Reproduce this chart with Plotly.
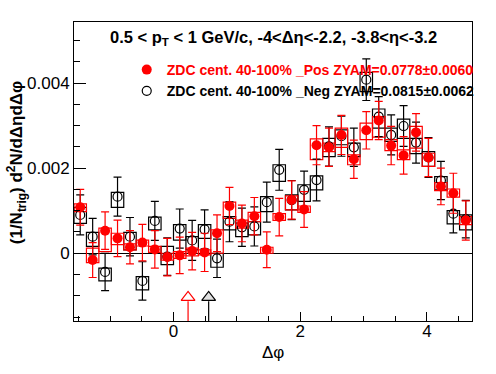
import numpy as np
import plotly.graph_objects as go

# ---- data (values in units of 1e-4) ----
n_bins = 32
red_y = [10.8, -1.6, 5.3, 3.5, 1.4, 2.5, 0.9, -0.9, -0.5, 0.5, 0.2, 4.7, 11.1, 7.0, 8.7, 0.8,
         8.5, 12.5, 10.3, 25.4, 24.9, 27.8, 22.1, 28.9, 31.2, 25.3, 23.0, 28.4, 22.5, 15.7, 14.1, 7.7]
red_err = [4.2, 4.1, 4.4, 4.3, 3.9, 4.3, 4.4, 4.4, 4.3, 4.4, 4.5, 4.3, 4.4, 4.3, 4.4, 4.2,
           4.4, 4.5, 4.2, 4.6, 4.5, 4.6, 4.5, 4.4, 4.5, 4.5, 4.4, 4.4, 4.5, 4.3, 4.7, 4.6]
red_box_lo = [9.8, -2.2, 0.4, 2.0, 0.8, 1.7, 0.2, -1.6, -1.2, -0.6, -0.4, 0.0, 8.2, 5.9, 7.4, 0.0,
              7.7, 10.2, 9.6, 22.0, 23.9, 24.9, 20.8, 26.7, 27.3, 24.1, 22.0, 24.7, 20.4, 14.7, 13.2, 6.7]
red_box_hi = [11.6, 1.2, 5.9, 4.7, 2.2, 3.1, 1.6, 0.0, 0.4, 1.2, 0.8, 5.5, 12.0, 7.8, 9.6, 1.4,
              9.3, 13.5, 11.1, 26.9, 25.9, 29.4, 23.1, 30.6, 32.1, 26.7, 24.3, 29.8, 23.5, 16.6, 15.1, 8.6]

black_y = [9.0, 3.9, -4.4, 13.3, 3.9, -6.5, 7.6, -0.8, 5.8, 3.0, 5.6, -1.2, 7.4, 6.1, 6.3, 12.0,
           19.6, 12.5, 14.9, 17.2, 25.1, 27.5, 24.9, 40.8, 32.1, 27.8, 29.9, 26.0, 22.5, 17.1, 9.3, 8.0]
black_err = [4.7, 4.3, 4.4, 4.6, 4.5, 4.5, 4.6, 4.4, 4.6, 4.7, 4.6, 4.5, 4.7, 4.5, 4.6, 4.7,
             4.8, 4.6, 4.4, 4.9, 4.6, 4.7, 4.5, 4.9, 4.7, 4.7, 4.8, 4.8, 4.7, 4.5, 4.5, 4.4]
black_box_lo = [7.0, 1.6, -6.5, 10.8, 0.8, -8.6, 5.5, -2.7, 3.1, 0.8, 3.5, -3.3, 5.5, 3.9, 4.3, 9.8,
                16.9, 10.2, 12.2, 14.9, 22.7, 25.5, 22.7, 38.0, 29.4, 26.3, 27.0, 23.4, 20.4, 14.9, 6.9, 5.5]
black_box_hi = [10.8, 4.9, -3.5, 14.3, 4.9, -5.5, 8.5, 1.6, 6.7, 3.9, 6.7, 0.0, 8.6, 7.1, 7.4, 13.3,
                20.8, 13.7, 16.1, 18.2, 27.0, 29.0, 25.9, 42.5, 33.9, 29.4, 31.5, 27.0, 23.9, 18.0, 10.0, 9.0]

arrow_x = [0.23, 0.555]
arrow_colors = ["#ff0000", "#000000"]
arrow_fill = ["#ffffff", "#e0e0e0"]
arrow_head_y = -10.4
arrow_tail_y = -11.3

y_range = [-15.93, 54.35]
x_range = [-np.pi / 2, 3 * np.pi / 2]

label_red = "ZDC cent. 40-100% _Pos ZYAM=0.0778±0.0060"
label_black = "ZDC cent. 40-100% _Neg ZYAM=0.0815±0.0062"
header = "0.5 &lt; p<sub>T</sub> &lt; 1 GeV/c, -4&lt;Δη&lt;-2.2, -3.8&lt;η&lt;-3.2"
x_title = "Δφ"
y_title = "(1/N<sub>trig</sub>) d<sup>2</sup>N/dΔηdΔφ"

# ---- derived ----
scale = 1e-4
bw = 2 * np.pi / n_bins
centers = x_range[0] + bw * (np.arange(n_bins) + 0.5)
S = lambda a: np.array(a) * scale

FONT = "Liberation Sans, Arial, Helvetica, sans-serif"
RED = "#ff0000"

fig = go.Figure()

# systematic boxes
for lo, hi, col in [(black_box_lo, black_box_hi, "black"), (red_box_lo, red_box_hi, RED)]:
    lo_a, hi_a = S(lo), S(hi)
    fig.add_trace(go.Bar(x=centers, y=hi_a - lo_a, base=lo_a, width=bw,
                         marker=dict(color="rgba(0,0,0,0)", line=dict(color=col, width=1.2)),
                         showlegend=False, hoverinfo="skip"))

# arrows
for ax, col, fc in zip(arrow_x, arrow_colors, arrow_fill):
    fig.add_trace(go.Scatter(x=[ax, ax], y=[arrow_tail_y * scale, y_range[0] * scale], mode="lines",
                             line=dict(color=col, width=1.2), showlegend=False, hoverinfo="skip"))
    fig.add_trace(go.Scatter(x=[ax], y=[arrow_head_y * scale], mode="markers",
                             marker=dict(symbol="triangle-up", size=12, color=fc,
                                         line=dict(color=col, width=1.2)),
                             showlegend=False, hoverinfo="skip"))

# black points
fig.add_trace(go.Scatter(x=centers, y=S(black_y), mode="markers",
                         name="<b>" + label_black + "</b>",
                         marker=dict(symbol="circle-open", size=9, color="black", line=dict(width=1.2)),
                         error_y=dict(type="data", array=S(black_err), thickness=1.2, width=4, color="black")))
# red points
fig.add_trace(go.Scatter(x=centers, y=S(red_y), mode="markers",
                         name="<span style='color:#ff0000'><b>" + label_red + "</b></span>",
                         marker=dict(symbol="circle", size=10, color=RED),
                         error_y=dict(type="data", array=S(red_err), thickness=1.2, width=4, color=RED)))

fig.add_annotation(text="<b>" + header + "</b>", xref="paper", yref="paper", x=0.5, y=0.945,
                   xanchor="center", yanchor="middle", showarrow=False,
                   font=dict(family=FONT, size=16.5, color="black"))
fig.add_annotation(text=x_title, xref="paper", yref="paper", x=0.5, y=-0.104,
                   xanchor="center", yanchor="middle", showarrow=False,
                   font=dict(family=FONT, size=17, color="black"))
fig.add_annotation(text="<b>" + y_title + "</b>", xref="paper", yref="paper", x=-0.144, y=0.53,
                   xanchor="center", yanchor="middle", showarrow=False, textangle=-90,
                   font=dict(family=FONT, size=17, color="black"))

fig.update_layout(
    width=496, height=374,
    margin=dict(l=74, r=24, t=22, b=53, autoexpand=False),
    paper_bgcolor="white", plot_bgcolor="white",
    barmode="overlay",
    font=dict(family=FONT, color="black"),
    showlegend=True,
    hovermode=False,
    legend=dict(x=0.1325, y=0.893, xanchor="left", yanchor="top", traceorder="reversed",
                bgcolor="rgba(0,0,0,0)", font=dict(family=FONT, size=14, color="black"),
                itemclick=False),
)

fig.update_xaxes(range=x_range, showline=True, linecolor="black", linewidth=1, mirror=True,
                 ticks="inside", ticklen=9, tickwidth=1, tickcolor="black",
                 tick0=0, dtick=2, showgrid=False, zeroline=False, automargin=False,
                 tickfont=dict(family=FONT, size=17), ticklabelstandoff=-5,
                 minor=dict(ticks="inside", ticklen=5, dtick=0.5, tick0=0, tickcolor="black", showgrid=False))
fig.update_yaxes(range=[y_range[0] * scale, y_range[1] * scale], showline=True, linecolor="black",
                 linewidth=1, mirror=True, automargin=False,
                 ticks="inside", ticklen=12, tickwidth=1, tickcolor="black",
                 tickvals=[0, 0.002, 0.004], ticktext=["0", "0.002", "0.004"],
                 showgrid=False, zeroline=True, zerolinecolor="black", zerolinewidth=1,
                 tickfont=dict(family=FONT, size=17),
                 minor=dict(ticks="inside", ticklen=6, dtick=0.0005, tick0=0, tickcolor="black", showgrid=False))

# remove the default page margin so the figure sits at the window's top-left corner
fig.write_html("out.html", config={"displayModeBar": False, "staticPlot": True},
               post_script="document.body.style.margin='0';")
